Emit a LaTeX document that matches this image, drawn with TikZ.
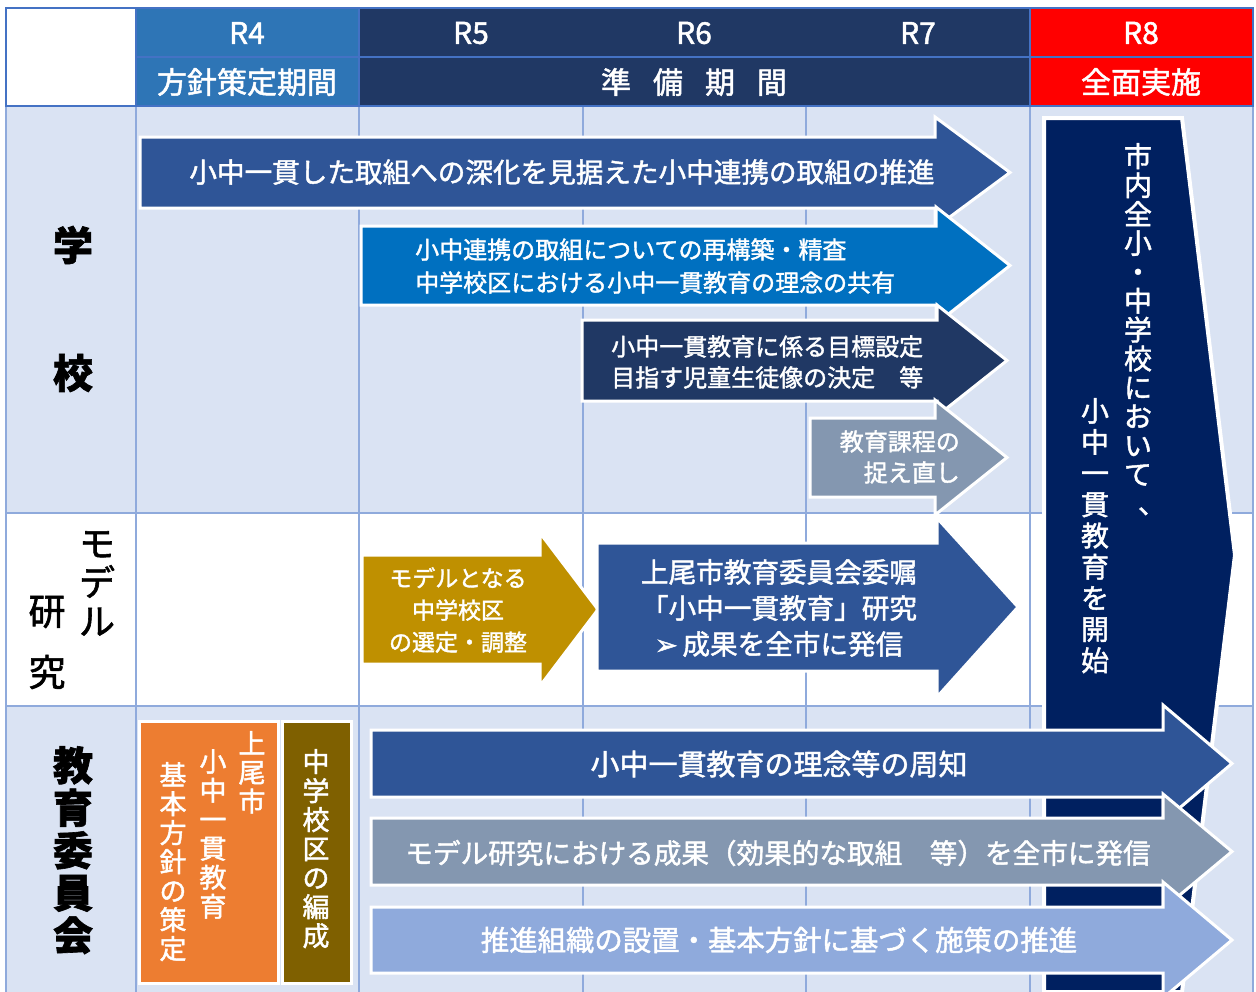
\documentclass[tikz,border=0pt]{standalone}
\usepackage{fontspec}
\setmainfont{Noto Sans CJK JP}[FakeBold=1.6]
\newfontfamily\dejavu{DejaVu Sans}[FakeBold=1.6]
\definecolor{hdrblue}{HTML}{2E75B6}
\definecolor{navy}{HTML}{203864}
\definecolor{rowblue}{HTML}{DAE3F3}
\definecolor{gridc}{HTML}{8FAADC}
\definecolor{hdrline}{HTML}{4472C4}
\definecolor{midblue}{HTML}{2F5597}
\definecolor{brightblue}{HTML}{0070C0}
\definecolor{slate}{HTML}{8497B0}
\definecolor{goldc}{HTML}{BF9000}
\definecolor{deepnavy}{HTML}{002060}
\definecolor{lightblue}{HTML}{8FAADC}
\definecolor{orangec}{HTML}{ED7D31}
\definecolor{brownc}{HTML}{7F6000}
\newcommand\fs[2]{\fontsize{#1}{#2}\selectfont}
\newcommand\myarrow[8]{%
  \draw[outl, fill=#1] (#2,#3) -- (#5,#3) -- (#5,#6) -- (#7,{(#3+#4)/2}) -- (#5,#8) -- (#5,#4) -- (#2,#4) -- cycle;}
\tikzset{
  wt/.style={text=white, inner sep=0pt},
  bk/.style={text=black, inner sep=0pt},
  outl/.style={draw=white, line width=3pt, line join=miter},
  gridline/.style={draw=gridc, line width=2pt},
  hline/.style={draw=hdrline, line width=2pt},
}
\begin{document}
\begin{tikzpicture}[x=1pt,y=-1pt]
\useasboundingbox (0,0) rectangle (1256,991);
\clip (0,0) rectangle (1256,991);
\fill[white] (0,0) rectangle (1256,991);
% header fills
\fill[hdrblue] (136,8) rectangle (359,106);
\fill[navy] (359,8) rectangle (1030,106);
\fill[red] (1030,8) rectangle (1253,106);
% body fills
\fill[rowblue] (6,106) rectangle (1253,513);
\fill[white] (6,513) rectangle (1253,706);
\fill[rowblue] (6,706) rectangle (1253,995);
% grid
\foreach \gx in {6,136,359,583,806,1030,1253} \draw[gridline] (\gx,106) -- (\gx,995);
\foreach \gy in {106,513,706} \draw[gridline] (6,\gy) -- (1253,\gy);
\draw[hline] (6,8) rectangle (1253,106);
\draw[hline] (136,57) -- (1253,57);
\foreach \gx in {136,359,1030} \draw[hline] (\gx,8) -- (\gx,106);
% header texts
\node[wt, font=\fs{30}{32}] (r4) at (247,33) {R4};
\node[wt, font=\fs{30}{32}] (r5) at (471,33) {R5};
\node[wt, font=\fs{30}{32}] (r6) at (694,33) {R6};
\node[wt, font=\fs{30}{32}] (r7) at (918,33) {R7};
\node[wt, font=\fs{30}{32}] (r8) at (1141,33) {R8};
\node[wt, font=\fs{30}{32}] (p1) at (247,82) {方針策定期間};
\node[wt, font=\fs{30}{32}] (p2) at (694,82) {準\hspace{22pt}備\hspace{22pt}期\hspace{22pt}間};
\node[wt, font=\fs{30}{32}] (p3) at (1141,82) {全面実施};
% left labels
\node[bk, font=\fs{40}{42}\bfseries] (g1) at (73,245) {学};
\node[bk, font=\fs{40}{42}\bfseries] (g2) at (73,373) {校};
\node[bk, font=\fs{36}{39}, align=center, anchor=north] (m1) at (97,531) {モ\\デ\\ル};
\node[bk, font=\fs{37}{40}] (m2) at (47,612) {研};
\node[bk, font=\fs{37}{40}] (m3) at (47,672) {究};
\node[bk, font=\fs{40}{42.5}\bfseries, align=center, anchor=north] (k1) at (73,746) {教\\育\\委\\員\\会};
% R8 big arrow
\draw[outl, line width=4pt, fill=deepnavy] (1044,118) -- (1182,118) -- (1235,555) -- (1182,992) -- (1044,992) -- cycle;
\node[wt, font=\fs{28}{28.9}, align=center, anchor=north] (v1) at (1138,143) {市\\内\\全\\小\\・\\中\\学\\校\\に\\お\\い\\て\\\makebox[1em][l]{\hspace{0.5em}、}};
\node[wt, font=\fs{28}{31.2}, align=center, anchor=north] (v2) at (1095,398) {小\\中\\一\\貫\\教\\育\\を\\開\\始};
% school row arrows
\myarrow{midblue}{140}{137}{208}{935}{117}{1010}{228}
\node[wt, font=\fs{27.6}{30}] (a1) at (562,172) {小中一貫した取組への深化を見据えた小中連携の取組の推進};
\myarrow{brightblue}{361}{226}{305}{936}{207}{1010}{324}
\node[wt, font=\fs{24}{33}, align=left, anchor=west] (a2) at (415,266) {小中連携の取組についての再構築・精査\\中学校区における小中一貫教育の理念の共有};
\myarrow{navy}{582}{320}{401}{937}{305}{1007}{416}
\node[wt, font=\fs{24}{31}, align=left, anchor=west] (a3) at (611,362) {小中一貫教育に係る目標設定\\目指す児童生徒像の決定　等};
\myarrow{slate}{810}{418}{497}{935}{400}{1007}{515}
\node[wt, font=\fs{24}{31}, align=right, anchor=east] (a4) at (960,457) {教育課程の\\捉え直し};
% model row arrows
\myarrow{goldc}{362}{555}{664}{540}{533}{598}{686}
\node[wt, font=\fs{23}{32}, align=center] (a5) at (458,610) {モデルとなる\\中学校区\\の選定・調整};
\myarrow{midblue}{597}{543}{671}{937}{518}{1018}{697}
\node[wt, font=\fs{27.6}{36}, align=center] (a6) at (779,608) {上尾市教育委員会委嘱\\「小中一貫教育」研究\\{\dejavu ➢}\,成果を全市に発信};
% board row
\draw[outl, fill=orangec] (139,721) rectangle (278,983);
\draw[outl, fill=brownc] (282,721) rectangle (351,983);
\node[wt, font=\fs{27}{29}, align=center, anchor=north] (o1) at (252,731) {上\\尾\\市};
\node[wt, font=\fs{27}{29}, align=center, anchor=north] (o2) at (213,749) {小\\中\\一\\貫\\教\\育};
\node[wt, font=\fs{27}{29}, align=center, anchor=north] (o3) at (173,762) {基\\本\\方\\針\\の\\策\\定};
\node[wt, font=\fs{27}{29}, align=center, anchor=north] (b1) at (316,749) {中\\学\\校\\区\\の\\編\\成};
\myarrow{midblue}{371}{730}{797}{1163}{705}{1232}{822}
\node[wt, font=\fs{29}{31}] (a7) at (779,764) {小中一貫教育の理念等の周知};
\myarrow{slate}{371}{818}{885}{1163}{794}{1232}{909}
\node[wt, font=\fs{27.6}{30}] (a8) at (778,853) {モデル研究における成果（効果的な取組　等）を全市に発信};
\myarrow{lightblue}{371}{907}{973}{1163}{882}{1232}{998}
\node[wt, font=\fs{28.4}{30}] (a9) at (779,940) {推進組織の設置・基本方針に基づく施策の推進};
\end{tikzpicture}
\end{document}
